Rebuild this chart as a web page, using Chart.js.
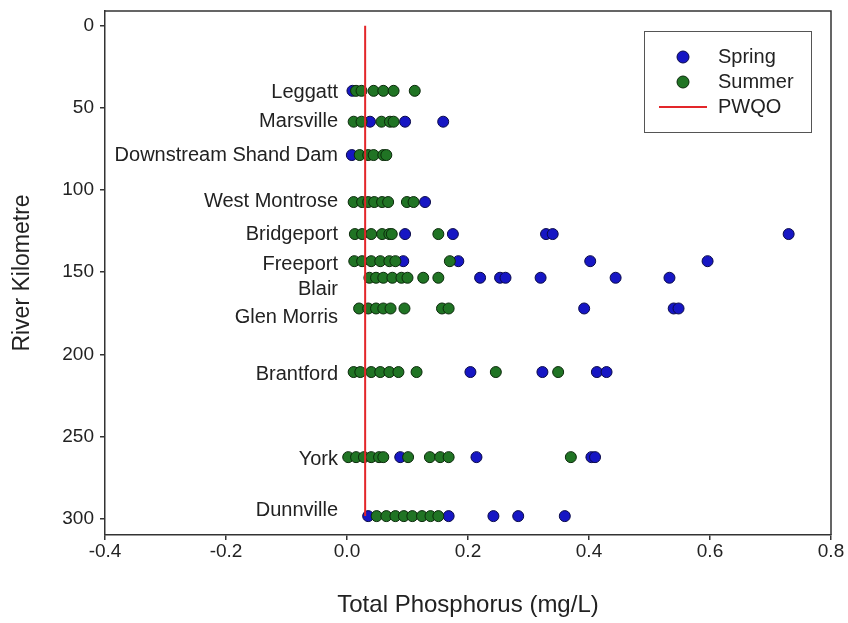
<!DOCTYPE html>
<html>
<head>
<meta charset="utf-8">
<script src="https://cdn.jsdelivr.net/npm/chart.js@4.4.1/dist/chart.umd.min.js"></script>
<style>
  html, body { margin: 0; padding: 0; background: #fff; }
  #wrap { width: 848px; height: 623px; }
</style>
</head>
<body>
<div id="wrap"><canvas id="myChart" width="848" height="623"></canvas></div>
<script>
// sampling sites, upstream -> downstream
const sites = ['Leggatt', 'Marsville', 'Downstream Shand Dam', 'West Montrose', 'Bridgeport',
  'Freeport', 'Blair', 'Glen Morris', 'Brantford', 'York', 'Dunnville'];
const siteKm = [39.6, 58.4, 78.7, 107.3, 126.8, 143.3, 153.4, 172.1, 210.8, 262.6, 298.5];

// total phosphorus (mg/L), one row per site
const springTP = [
  [0.009],
  [0.038, 0.096, 0.159],
  [0.008],
  [0.129],
  [0.096, 0.175, 0.329, 0.340, 0.730],
  [0.093, 0.184, 0.402, 0.596],
  [0.220, 0.253, 0.262, 0.320, 0.444, 0.533],
  [0.392, 0.540, 0.548],
  [0.204, 0.323, 0.413, 0.429],
  [0.088, 0.214, 0.404, 0.410],
  [0.035, 0.168, 0.242, 0.283, 0.360]
];
const summerTP = [
  [0.015, 0.024, 0.044, 0.060, 0.077, 0.112],
  [0.011, 0.024, 0.057, 0.071, 0.077],
  [0.021, 0.035, 0.044, 0.060, 0.065],
  [0.011, 0.025, 0.035, 0.045, 0.058, 0.068, 0.099, 0.110],
  [0.013, 0.025, 0.040, 0.058, 0.070, 0.074, 0.151],
  [0.012, 0.025, 0.040, 0.055, 0.070, 0.080, 0.170],
  [0.037, 0.048, 0.060, 0.075, 0.090, 0.100, 0.126, 0.151],
  [0.020, 0.035, 0.048, 0.060, 0.072, 0.095, 0.157, 0.168],
  [0.011, 0.022, 0.040, 0.055, 0.070, 0.085, 0.115, 0.246, 0.349],
  [0.002, 0.015, 0.028, 0.040, 0.053, 0.060, 0.101, 0.137, 0.154, 0.168, 0.370],
  [0.049, 0.065, 0.080, 0.094, 0.108, 0.124, 0.138, 0.151]
];

const pwqo = 0.03;
const pwqoKm = [0, 298.5];

const xTicks = [-0.4, -0.2, 0, 0.2, 0.4, 0.6, 0.8];
const yTicks = [0, 50, 100, 150, 200, 250, 300];

const FONT = "'Liberation Sans', Arial, sans-serif";
const TEXT = '#222';
const AXIS = '#333';

// label nudges in px (some names sit below their row)
const labelNudge = [2, 0, 0, -1, 0, 3, 12, 9, 2, 2, -6];

function toPoints(rows) {
    const pts = [];
    rows.forEach((row, i) => {
        row.forEach(v => pts.push({x: v, y: siteKm[i]}));
    });
    return pts;
}

const siteLabels = {
    id: 'siteLabels',
    afterDatasetsDraw(chart) {
        const ctx = chart.ctx;
        const xs = chart.scales.x, ys = chart.scales.y;
        ctx.save();
        ctx.font = '20px ' + FONT;
        ctx.fillStyle = TEXT;
        ctx.textAlign = 'right';
        ctx.textBaseline = 'middle';
        const xr = xs.getPixelForValue(0) - 9;
        sites.forEach((name, i) => {
            ctx.fillText(name, xr, ys.getPixelForValue(siteKm[i]) + labelNudge[i]);
        });
        ctx.restore();
    }
};

const frameAndLegend = {
    id: 'frameAndLegend',
    afterDraw(chart) {
        const ctx = chart.ctx;
        const a = chart.chartArea;
        ctx.save();
        ctx.strokeStyle = AXIS;
        ctx.lineWidth = 1.5;
        ctx.beginPath();
        ctx.moveTo(a.left, a.top);
        ctx.lineTo(a.right, a.top);
        ctx.lineTo(a.right, a.bottom);
        ctx.stroke();

        // legend box
        const bx = 644, by = 31, bw = 167, bh = 101;
        ctx.fillStyle = '#fff';
        ctx.fillRect(bx, by, bw, bh);
        ctx.strokeStyle = '#555';
        ctx.lineWidth = 1;
        ctx.strokeRect(bx + 0.5, by + 0.5, bw, bh);

        const ds = chart.data.datasets;
        const rows = [57, 82, 107];
        ctx.font = '20px ' + FONT;
        ctx.textAlign = 'left';
        ctx.textBaseline = 'middle';
        ds.forEach((d, i) => {
            const y = rows[i];
            if (d.showLine) {
                ctx.strokeStyle = d.borderColor;
                ctx.lineWidth = d.borderWidth;
                ctx.beginPath();
                ctx.moveTo(659, y);
                ctx.lineTo(707, y);
                ctx.stroke();
            } else {
                ctx.fillStyle = d.backgroundColor;
                ctx.strokeStyle = d.borderColor;
                ctx.lineWidth = 1;
                ctx.beginPath();
                ctx.arc(683, y, 6, 0, Math.PI * 2);
                ctx.fill();
                ctx.stroke();
            }
            ctx.fillStyle = TEXT;
            ctx.fillText(d.label, 718, y);
        });
        ctx.restore();
    }
};

const ctx = document.getElementById('myChart');
const myChart = new Chart(ctx, {
    type: 'scatter',
    data: {
        datasets: [{
            label: 'Spring',
            data: toPoints(springTP),
            backgroundColor: '#1616c4',
            borderColor: '#0a0a4a',
            borderWidth: 1,
            pointRadius: 5.5,
            order: 2
        }, {
            label: 'Summer',
            data: toPoints(summerTP),
            backgroundColor: '#207424',
            borderColor: '#0b2a0b',
            borderWidth: 1,
            pointRadius: 5.5,
            order: 1
        }, {
            label: 'PWQO',
            data: pwqoKm.map(k => ({x: pwqo, y: k})),
            showLine: true,
            borderColor: '#e3262a',
            backgroundColor: '#e3262a',
            borderWidth: 2,
            pointRadius: 0,
            order: 0
        }]
    },
    options: {
        responsive: false,
        animation: false,
        devicePixelRatio: 1,
        layout: { padding: { top: 11, right: 17, left: 0, bottom: 0 } },
        plugins: {
            legend: { display: false },
            tooltip: { enabled: false }
        },
        scales: {
            x: {
                type: 'linear',
                min: -0.4,
                max: 0.8,
                afterBuildTicks: s => { s.ticks = xTicks.map(v => ({value: v})); },
                afterFit: s => { s.height = 88; },
                ticks: {
                    padding: 0,
                    color: TEXT,
                    font: { family: FONT, size: 19 },
                    callback: v => Number(v).toFixed(1)
                },
                grid: { drawOnChartArea: false, drawTicks: true, tickLength: 5, color: AXIS, lineWidth: 1.5 },
                border: { display: true, color: AXIS, width: 1.5 },
                title: {
                    display: true,
                    text: 'Total Phosphorus (mg/L)',
                    color: TEXT,
                    font: { family: FONT, size: 24 },
                    padding: { top: 0, bottom: 3 }
                }
            },
            y: {
                type: 'linear',
                reverse: true,
                min: -9,
                max: 310,
                afterBuildTicks: s => { s.ticks = yTicks.map(v => ({value: v})); },
                afterFit: s => { s.width = 105; s.paddingTop = 0; s.paddingBottom = 0; },
                ticks: {
                    padding: 6,
                    color: TEXT,
                    font: { family: FONT, size: 19 }
                },
                grid: { drawOnChartArea: false, drawTicks: true, tickLength: 5, color: AXIS, lineWidth: 1.5 },
                border: { display: true, color: AXIS, width: 1.5 },
                title: {
                    display: true,
                    text: 'River Kilometre',
                    color: TEXT,
                    font: { family: FONT, size: 23 },
                    padding: { top: 9, bottom: 0 }
                }
            }
        }
    },
    plugins: [siteLabels, frameAndLegend]
});
</script>
</body>
</html>
